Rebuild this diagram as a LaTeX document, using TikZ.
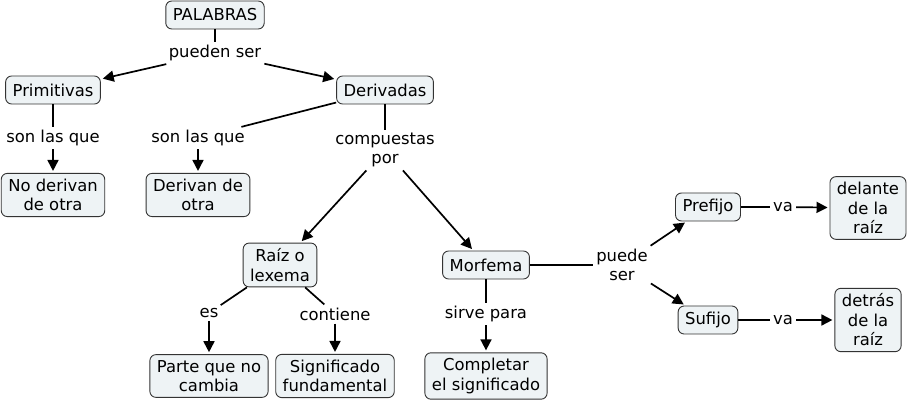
\documentclass[tikz,border=0pt]{standalone}
\usepackage{fontspec}
\setmainfont{DejaVu Sans}
\usetikzlibrary{arrows.meta}
\definecolor{boxfill}{HTML}{EEF3F5}
\definecolor{boxline}{HTML}{333333}
\tikzset{
  concept/.style={draw=boxline,fill=boxfill,rounded corners=6pt,line width=0.9pt,
    align=center,inner xsep=7pt,inner ysep=5.5pt,minimum height=28pt},
  linkword/.style={align=center,inner sep=3pt},
  link/.style={line width=1.7pt},
  linkto/.style={line width=1.7pt,->,shorten >=2pt}
}
\begin{document}
\begin{tikzpicture}[x=1pt,y=-1pt,>={Triangle[length=11pt,width=11pt]},
  font=\fontsize{16.4}{19.5}\selectfont]
  \useasboundingbox (0,0) rectangle (908,403);
  % conceptos
  \node[concept] (palabras) at (215,15) {PALABRAS};
  \node[concept] (primitivas) at (53,90) {Primitivas};
  \node[concept] (derivadas) at (385,90) {Derivadas};
  \node[concept] (noderivan) at (53,195) {No derivan\\de otra};
  \node[concept] (derivan) at (198,195) {Derivan de\\otra};
  \node[concept] (raiz) at (280,265) {Raíz o\\lexema};
  \node[concept] (morfema) at (486,265) {Morfema};
  \node[concept] (parte) at (209,376) {Parte que no\\cambia};
  \node[concept] (signif) at (335,376) {Significado\\fundamental};
  \node[concept] (completar) at (486,376) {Completar\\el significado};
  \node[concept] (prefijo) at (708,207) {Prefijo};
  \node[concept] (sufijo) at (708,320) {Sufijo};
  \node[concept] (delante) at (868,208) {delante\\de la\\raíz};
  \node[concept] (detras) at (868,320) {detrás\\de la\\raíz};
  % palabras de enlace
  \node[linkword] (puedenser) at (215,53) {pueden ser};
  \node[linkword] (sonA) at (53,138) {son las que};
  \node[linkword] (sonB) at (198,138) {son las que};
  \node[linkword] (compuestas) at (385,150) {compuestas\\por};
  \node[linkword] (es) at (209,313) {es};
  \node[linkword] (contiene) at (335,314) {contiene};
  \node[linkword] (sirve) at (486,314) {sirve para};
  \node[linkword] (puede) at (622,265) {puede\\ser};
  \node[linkword] (vaA) at (783,207) {va};
  \node[linkword] (vaB) at (783,320) {va};
  % enlaces
  \draw[link] (palabras) -- (puedenser);
  \draw[linkto] (puedenser) -- (primitivas);
  \draw[linkto] (puedenser) -- (derivadas);
  \draw[link] (primitivas) -- (sonA);
  \draw[linkto] (sonA) -- (noderivan);
  \draw[link] (derivadas) -- (sonB);
  \draw[linkto] (sonB) -- (derivan);
  \draw[link] (derivadas) -- (compuestas);
  \draw[linkto] (compuestas) -- (raiz);
  \draw[linkto] (compuestas) -- (morfema);
  \draw[link] (raiz) -- (es);
  \draw[linkto] (es) -- (parte);
  \draw[link] (raiz) -- (contiene);
  \draw[linkto] (contiene) -- (signif);
  \draw[link] (morfema) -- (sirve);
  \draw[linkto] (sirve) -- (completar);
  \draw[link] (morfema) -- (puede);
  \draw[linkto] (puede) -- (prefijo);
  \draw[linkto] (puede) -- (sufijo);
  \draw[link] (prefijo) -- (vaA);
  \draw[linkto] (vaA) -- (delante);
  \draw[link] (sufijo) -- (vaB);
  \draw[linkto] (vaB) -- (detras);
\end{tikzpicture}
\end{document}
